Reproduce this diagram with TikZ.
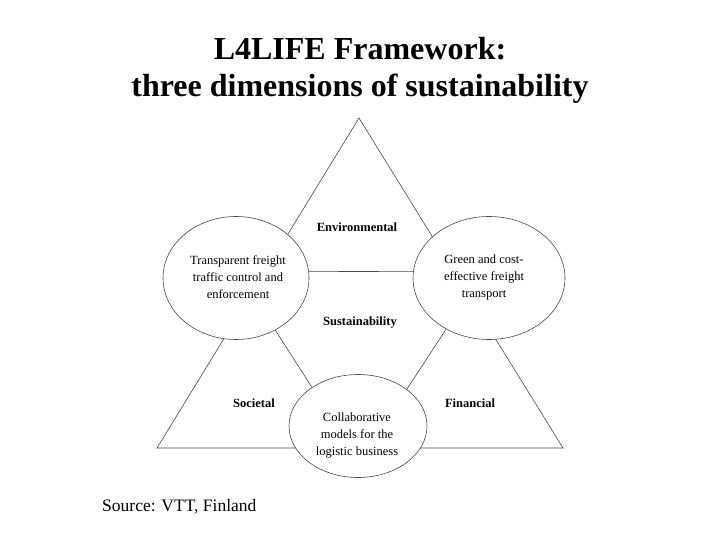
\documentclass[tikz,border=0pt]{standalone}
\usepackage{fontspec}
\setmainfont{Liberation Serif}
\usetikzlibrary{shapes.geometric}
\definecolor{mylinegray}{RGB}{70,70,70}

\begin{document}
\begin{tikzpicture}[x=1pt,y=-1pt,
  conn/.style={draw=mylinegray,line width=0.6pt},
  ring/.style={ellipse,draw=mylinegray,line width=0.6pt,fill=white,inner sep=0pt},
  ringtext/.style={align=center,inner sep=0pt,font=\fontsize{12.5}{17}\selectfont},
  dimtext/.style={inner sep=0pt,font=\bfseries\fontsize{12.5}{15}\selectfont},
  titletext/.style={inner sep=0pt,font=\bfseries\fontsize{32}{37}\selectfont}]
\useasboundingbox (0,0) rectangle (720,540);
% title
  \node[titletext,anchor=base] (title1) at (360,60) {L4LIFE Framework:};
  \node[titletext,anchor=base] (title2) at (360,97) {three dimensions of sustainability};
% big triangle
  \coordinate (apex) at (359,118);
  \coordinate (bl)   at (157,448);
  \coordinate (br)   at (563,448);
  \draw[conn] (apex) -- (bl) -- (br) -- cycle;
% the three rings
  \node[ring,minimum width=146pt,minimum height=123pt] (lft) at (236,278) {};
  \node[ring,minimum width=152pt,minimum height=123pt] (rgt) at (489,278) {};
  \node[ring,minimum width=138pt,minimum height=103pt] (bot) at (358,426) {};
  \draw[conn] (lft.5)   -- (rgt.175);
  \draw[conn] (lft.-53) -- (bot.140);
  \draw[conn] (rgt.-130) -- (bot.37);
% ring texts
  \node[ringtext] (lfttxt) at (238,277) {Transparent freight\\traffic control and\\enforcement};
  \node[ringtext] (rgttxt) at (484,277) {Green and cost-\\effective freight\\transport};
  \node[ringtext] (bottxt) at (357,436) {Collaborative\\models for the\\logistic business};
% dimensions
  \foreach \x/\y/\nm/\txt in {357/231/env/Environmental,360/325/sus/Sustainability,254/407/soc/Societal,470/407/fin/Financial}
    {
     \node[dimtext,anchor=base] (\nm) at (\x,\y) {\txt};
    }
% source
  \node[anchor=base west,inner sep=0pt,font=\fontsize{17.5}{20}\selectfont] (src) at (102,511) {Source: VTT, Finland};
\end{tikzpicture}
\end{document}
